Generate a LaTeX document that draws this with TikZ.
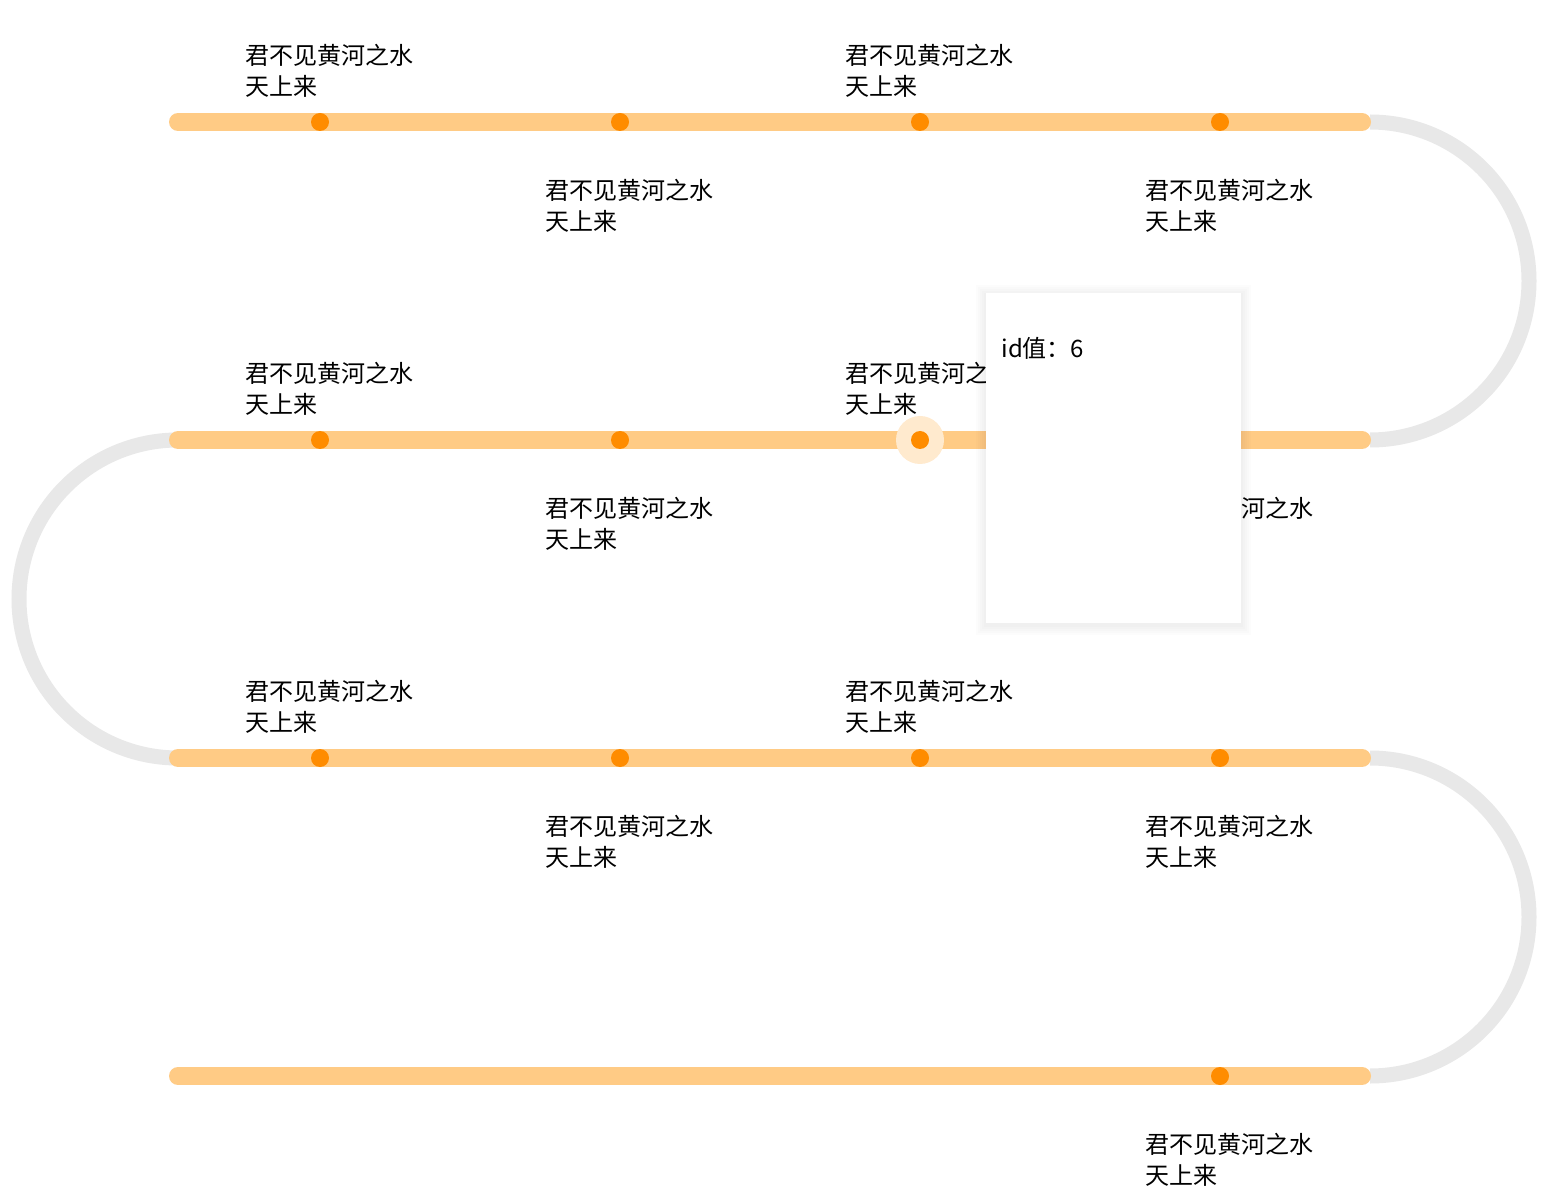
\documentclass[tikz,border=0pt]{standalone}
\usepackage{fontspec}
\setmainfont{Noto Sans CJK SC}
\definecolor{track}{HTML}{FFCB85}
\definecolor{dotc}{HTML}{FF8C00}
\definecolor{arcc}{HTML}{E8E8E8}
\begin{document}
\begin{tikzpicture}[x=0.5pt,y=-0.5pt,
  trk/.style={line width=9pt,color=track,line cap=round},
  arcl/.style={line width=7.5pt,color=arcc},
  dotn/.style={circle,fill=dotc,inner sep=0pt,minimum size=9pt},
  lbl/.style={anchor=west,align=left,inner sep=0pt,font=\fontsize{12pt}{15.5pt}\selectfont}]
\useasboundingbox[fill=white] (0,0) rectangle (1564,1192);
% arcs
\draw[arcl] (1370,122) arc[start angle=-90,end angle=90,radius=159];
\draw[arcl] (178,440) arc[start angle=-90,end angle=-270,radius=159];
\draw[arcl] (1370,758) arc[start angle=-90,end angle=90,radius=159];
% tracks
\foreach \r/\y in {1/122,2/440,3/758,4/1076}{
  \coordinate (s\r) at (178,\y); \coordinate (e\r) at (1362,\y);
  \draw[trk] (s\r) -- (e\r);
}
% halo
\fill[track!40] (920,440) circle[radius=24];
% dots
\foreach \r/\y in {1/122,2/440,3/758}{
  \foreach \i/\x in {a/320,b/620,c/920,d/1220}
    \node[dotn] (d\r\i) at (\x,\y) {};
}
\node[dotn] (d4d) at (1220,1076) {};
% labels
\foreach \r/\y in {1/122,2/440,3/758}{
  \node[lbl] (l\r a) at (245,\y-51.5) {君不见黄河之水\\天上来};
  \node[lbl] (l\r c) at (845,\y-51.5) {君不见黄河之水\\天上来};
  \node[lbl] (l\r b) at (545,\y+83.5) {君不见黄河之水\\天上来};
  \node[lbl] (l\r d) at (1145,\y+83.5) {君不见黄河之水\\天上来};
}
\node[lbl] (l4d) at (1145,1159.5) {君不见黄河之水\\天上来};
% tooltip shadow
\foreach \k in {10,8,6,4,2}{
  \fill[black,opacity=0.012] (986-\k,293-\k+2) rectangle (1241+\k,623+\k+2);
}
\node[fill=white,minimum width=127.5pt,minimum height=165pt,inner sep=0pt,anchor=north west] (tip) at (986,293) {};
\node[anchor=west,inner sep=0pt,font=\fontsize{12pt}{14pt}\selectfont] (tiptext) at (1001,348) {id值：6};
\end{tikzpicture}
\end{document}
